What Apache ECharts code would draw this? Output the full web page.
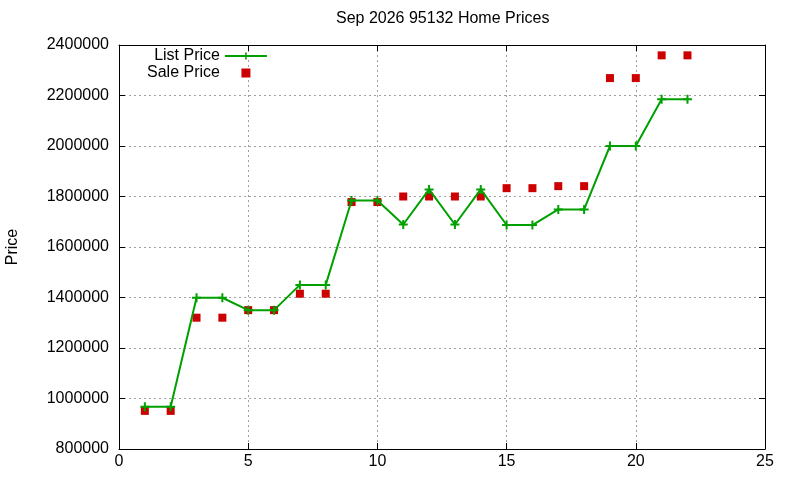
<!DOCTYPE html>
<html>
<head>
<meta charset="utf-8">
<script src="https://cdn.jsdelivr.net/npm/echarts@6/dist/echarts.min.js"></script>
<style>
html, body { margin: 0; padding: 0; background: #fff; }
#chart { width: 800px; height: 480px; }
</style>
</head>
<body>
<div id="chart"></div>
<script>
// index of each sale, 1..22
var saleIndex = [1, 2, 3, 4, 5, 6, 7, 8, 9, 10, 11, 12, 13, 14, 15, 16, 17, 18, 19, 20, 21, 22];
var listPrice = [967000, 967000, 1399000, 1399000, 1350000, 1350000, 1450000, 1450000,
    1784000, 1784000, 1689000, 1828000, 1689000, 1828000, 1687000, 1687000,
    1749000, 1749000, 2000000, 2000000, 2185000, 2185000];
var salePrice = [951000, 951000, 1320000, 1320000, 1350000, 1350000, 1415000, 1415000,
    1778000, 1778000, 1800000, 1800000, 1800000, 1800000, 1833000, 1833000,
    1841000, 1841000, 2269000, 2269000, 2359000, 2359000];

var FONT = 'Liberation Sans';
var green = '#00a000';
var red = '#cc0000';
var plus = 'path://M0,3.5H9V5.5H0Z M3.5,0H5.5V9H3.5Z';
var square = 'path://M0,0H10V10H0Z';

function pairs(xs, ys) {
    return xs.map(function (x, i) { return [x, ys[i]]; });
}

var dom = document.getElementById('chart');
var myChart = echarts.init(dom);

var tickStyle = { show: true, inside: true, length: 6, lineStyle: { color: '#000', width: 1 } };
var lineBlack = { show: true, onZero: false, lineStyle: { color: '#000', width: 1 } };
var gridLine = { show: true, lineStyle: { color: '#a0a0a0', width: 1, type: [2, 3] } };
var labelStyle = { color: '#000', fontSize: 16, fontFamily: FONT };

var option = {
    backgroundColor: '#fff',
    animation: false,
    title: {
        text: 'Sep 2026 95132 Home Prices',
        left: 336,
        top: 11,
        padding: 0,
        textStyle: { color: '#000', fontSize: 16, fontWeight: 'normal', fontFamily: FONT }
    },
    legend: {
        orient: 'vertical',
        left: 147,
        top: 48,
        padding: 0,
        align: 'right',
        itemWidth: 42,
        itemHeight: 9,
        itemGap: 1,
        textStyle: { color: '#000', fontSize: 16, fontFamily: FONT },
        data: ['List Price', 'Sale Price']
    },
    grid: { left: 119, right: 35, top: 45, bottom: 31, outerBoundsMode: 'none' },
    xAxis: [{
        type: 'value', min: 0, max: 25, interval: 5, position: 'bottom',
        axisLine: lineBlack, axisTick: tickStyle,
        axisLabel: Object.assign({ margin: 5 }, labelStyle),
        splitLine: gridLine
    }, {
        type: 'value', min: 0, max: 25, interval: 5, position: 'top',
        axisLine: lineBlack, axisTick: tickStyle,
        axisLabel: { show: false }, splitLine: { show: false }
    }],
    yAxis: [{
        type: 'value', min: 800000, max: 2400000, interval: 200000, position: 'left',
        name: 'Price', nameLocation: 'middle', nameRotate: 90, nameGap: 98,
        nameTextStyle: { color: '#000', fontSize: 16, fontFamily: FONT },
        axisLine: lineBlack, axisTick: tickStyle,
        axisLabel: Object.assign({ margin: 10, formatter: function (v) { return String(v); } }, labelStyle),
        splitLine: gridLine
    }, {
        type: 'value', min: 800000, max: 2400000, interval: 200000, position: 'right',
        axisLine: lineBlack, axisTick: tickStyle,
        axisLabel: { show: false }, splitLine: { show: false }
    }],
    series: [{
        name: 'List Price',
        type: 'line',
        data: pairs(saleIndex, listPrice),
        symbol: plus,
        symbolSize: 9,
        showSymbol: true,
        color: green,
        itemStyle: { color: green },
        lineStyle: { color: green, width: 2 }
    }, {
        name: 'Sale Price',
        type: 'scatter',
        data: pairs(saleIndex, salePrice),
        symbol: square,
        symbolSize: 8,
        color: red,
        itemStyle: { color: red, opacity: 1 }
    }]
};

if (option && typeof option === 'object') {
    myChart.setOption(option, true);
}
</script>
</body>
</html>
